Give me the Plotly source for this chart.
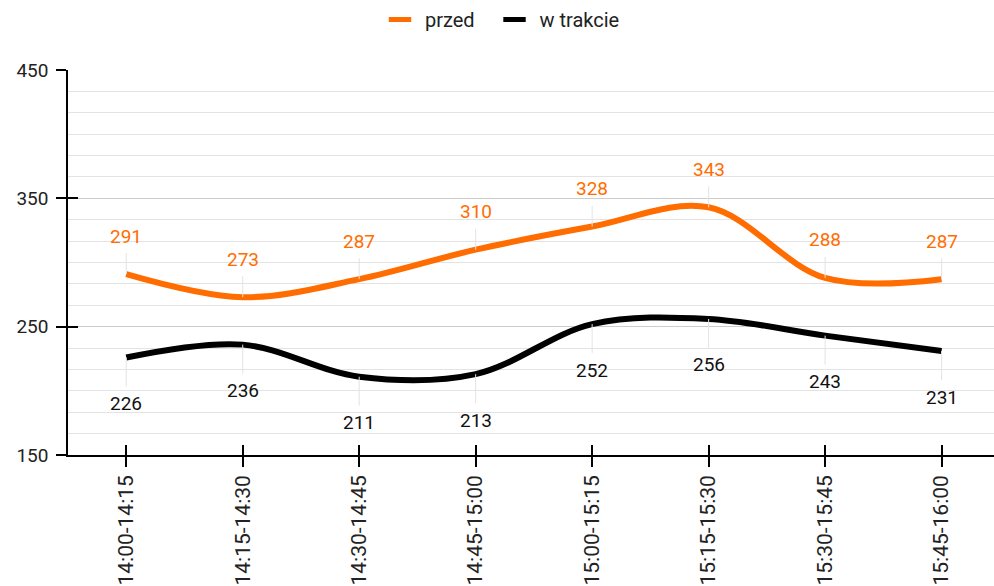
import plotly.graph_objects as go

categories = ["14:00-14:15", "14:15-14:30", "14:30-14:45", "14:45-15:00",
              "15:00-15:15", "15:15-15:30", "15:30-15:45", "15:45-16:00"]
przed = [291, 273, 287, 310, 328, 343, 288, 287]
w_trakcie = [226, 236, 211, 213, 252, 256, 243, 231]

ORANGE = "#ff6d00"
BLACK = "#000000"
FONT = "Roboto"

fig = go.Figure()
fig.add_trace(go.Scatter(x=categories, y=przed, name="przed", mode="lines",
                         showlegend=False,
                         line=dict(color=ORANGE, width=6, shape="spline", smoothing=1)))
fig.add_trace(go.Scatter(x=categories, y=w_trakcie, name="w trakcie", mode="lines",
                         showlegend=False,
                         line=dict(color=BLACK, width=6, shape="spline", smoothing=1)))

# legend entries with short thick symbols
NB = "\u00a0"
for nm, col, pad in [("przed", ORANGE, NB * 3), ("w trakcie", BLACK, "")]:
    fig.add_trace(go.Scatter(x=[None], y=[None], name=NB + nm + pad, mode="markers",
                             marker=dict(symbol="line-ew", size=16, color=col,
                                         line=dict(color=col, width=6))))

# invisible trace on overlay axes to show crossing ticks
fig.add_trace(go.Scatter(x=categories, y=przed, xaxis="x2", yaxis="y2", mode="lines",
                         line=dict(width=0), showlegend=False, hoverinfo="skip"))

annotations = []
for c, v in zip(categories, przed):
    annotations.append(dict(x=c, y=v, text=str(v), showarrow=True, arrowhead=0,
                            arrowwidth=1, arrowcolor="#e3e3e3", ax=0, ay=-38,
                            startstandoff=4,
                            font=dict(family=FONT, size=19, color=ORANGE)))
for c, v in zip(categories, w_trakcie):
    annotations.append(dict(x=c, y=v, text=str(v), showarrow=True, arrowhead=0,
                            arrowwidth=1, arrowcolor="#e3e3e3", ax=0, ay=46,
                            startstandoff=4,
                            font=dict(family=FONT, size=19, color="#111111")))

fig.update_layout(
    width=994, height=586,
    margin=dict(l=68, r=0, t=70, b=129),
    plot_bgcolor="white", paper_bgcolor="white",
    font=dict(family=FONT, size=18, color="#222222"),
    showlegend=True,
    legend=dict(orientation="h", x=(380 - 68) / 926, xanchor="left", y=1.0,
                yref="container", yanchor="top",
                font=dict(family=FONT, size=20, color="#222222"),
                itemwidth=30),
    annotations=annotations,
    xaxis=dict(type="category", range=[-0.5, 7.45], showgrid=False,
               showline=True, linecolor="black", linewidth=1.5,
               ticks="outside", ticklen=10, tickcolor="black", tickwidth=1.5,
               tickangle=-90, tickfont=dict(family=FONT, size=21, color="#222222"),
               zeroline=False),
    yaxis=dict(range=[150, 450], tick0=150, dtick=100, showline=True,
               linecolor="black", linewidth=1.5, ticks="outside", ticklen=10,
               tickcolor="black", tickwidth=1.5, gridcolor="#cccccc", gridwidth=1,
               tickfont=dict(family=FONT, size=19, color="#222222"),
               ticklabelstandoff=4,
               zeroline=False,
               minor=dict(tick0=150, dtick=100/6, showgrid=True,
                          gridcolor="#e3e3e3", gridwidth=1, ticks="")),
    xaxis2=dict(type="category", overlaying="x", range=[-0.5, 7.45], showgrid=False,
                showline=False, ticks="inside", ticklen=10, tickcolor="black",
                tickwidth=1.5, showticklabels=False, anchor="y2",
                categoryarray=categories, categoryorder="array"),
    yaxis2=dict(overlaying="y", range=[150, 450], tick0=150, dtick=100,
                showgrid=False, showline=False, ticks="inside", ticklen=10,
                tickcolor="black", tickwidth=1.5, showticklabels=False,
                zeroline=False, anchor="x2"),
)

fig.write_html("out.html", config={"displayModeBar": False},
               post_script="document.body.style.margin='0';document.body.style.padding='0';")
